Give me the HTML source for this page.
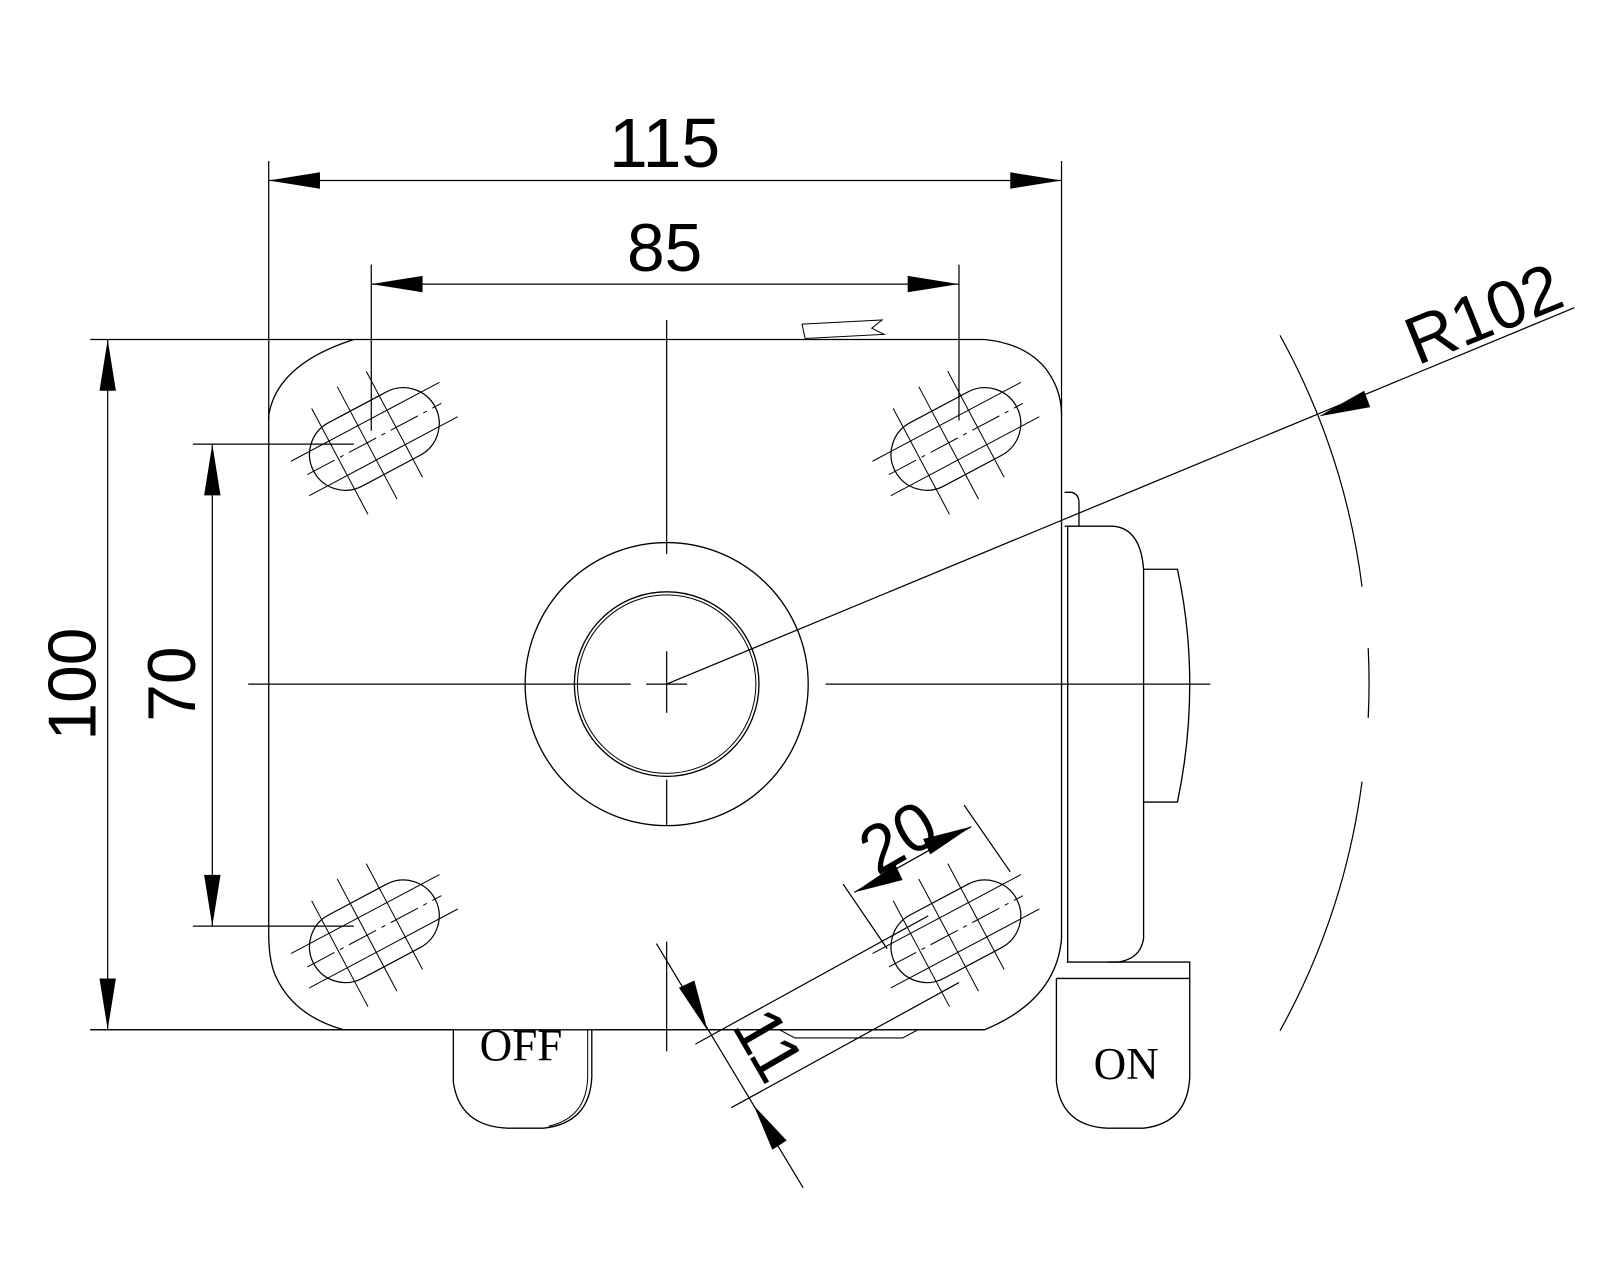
<!DOCTYPE html>
<html><head><meta charset="utf-8"><style>
html,body{margin:0;padding:0;background:#fff;width:1600px;height:1280px;overflow:hidden}
svg{display:block}
text{font-family:"Liberation Sans",sans-serif;fill:#000}
</style></head><body>
<svg width="1600" height="1280" viewBox="0 0 1560 1248" xmlns="http://www.w3.org/2000/svg">
<defs>
<g id="slot">
<path d="M-32,-35 L32,-35 A35,35 0 0 1 32,35 L-32,35 A35,35 0 0 1 -32,-35 Z" fill="none" stroke="#000" stroke-width="1.2"/>
<g stroke="#000" stroke-width="1">
<line x1="-40" y1="-55" x2="-40" y2="62"/>
<line x1="-8" y1="-62" x2="-8" y2="62"/>
<line x1="24" y1="-62" x2="24" y2="55"/>
<line x1="-82" y1="19" x2="82" y2="19"/>
<line x1="-82" y1="-19" x2="82" y2="-19"/>
<line x1="-74" y1="0" x2="74" y2="0" stroke-dasharray="30,6,4,6"/>
</g>
</g>
</defs>
<g fill="none" stroke="#000" stroke-width="1.3">
<path d="M345,331 L960,331 Q1000,335 1020,360 Q1035,380 1035,405 L1035,915 Q1030,975 960,1004 L335,1004 Q285,990 268,950 Q262,935 262,910 L262,405 Q270,355 345,331 Z"/>
<circle cx="650" cy="667" r="138"/>
<circle cx="650" cy="667" r="90"/>
<circle cx="650" cy="667" r="87" stroke-width="1"/>
<path d="M1038,480 L1045,480 Q1052,482 1052,490 L1052,513"/>
<path d="M1038,513 L1085,513 Q1112,515 1115,555 L1115,915 Q1112,935 1090,938 L1040,938"/>
<line x1="1041" y1="513" x2="1041" y2="938"/>
<path d="M1115,555 L1148,555 Q1160,610 1160,667 Q1160,725 1148,782 L1115,782"/>
<path d="M1030,954 L1030,1055 Q1035,1098 1080,1100 L1115,1100 Q1158,1095 1160,1050 L1160,938 L1080,938"/>
<line x1="1030" y1="954" x2="1160" y2="954"/>
<path d="M442,1004 L442,1055 Q448,1098 495,1100 L530,1100 Q575,1095 577,1050 L577,1004"/>
<path d="M573,1004 L573,1050 Q572,1090 535,1098" stroke-width="1"/>
<path d="M782,316 L860,312 L850,320 L862,326 L785,330 Z" stroke-width="1"/>
<path d="M760,1004 L775,1012 L880,1012 L895,1004" stroke-width="1"/>
</g>
<use href="#slot" transform="translate(365,428) rotate(-28)"/>
<use href="#slot" transform="translate(932,428) rotate(-28)"/>
<use href="#slot" transform="translate(365,908) rotate(-28)"/>
<use href="#slot" transform="translate(932,908) rotate(-28)"/>
<g stroke="#000" stroke-width="1.2" fill="none">
<line x1="242" y1="667" x2="615" y2="667"/>
<line x1="630" y1="667" x2="670" y2="667"/>
<line x1="805" y1="667" x2="1180" y2="667"/>
<line x1="650" y1="312" x2="650" y2="540"/>
<line x1="650" y1="635" x2="650" y2="695"/>
<line x1="650" y1="760" x2="650" y2="805"/>
<line x1="650" y1="918" x2="650" y2="1025"/>
<line x1="262" y1="157" x2="262" y2="410"/>
<line x1="1035" y1="157" x2="1035" y2="405"/>
<line x1="262" y1="176" x2="1035" y2="176"/>
<line x1="362" y1="258" x2="362" y2="420"/>
<line x1="935" y1="258" x2="935" y2="410"/>
<line x1="362" y1="277" x2="935" y2="277"/>
<line x1="88" y1="331" x2="345" y2="331"/>
<line x1="88" y1="1004" x2="440" y2="1004"/>
<line x1="105" y1="331" x2="105" y2="1004"/>
<line x1="188" y1="433" x2="345" y2="433"/>
<line x1="188" y1="903" x2="345" y2="903"/>
<line x1="207" y1="433" x2="207" y2="903"/>
<line x1="650" y1="667" x2="1535" y2="300"/>
<path d="M1248,327 A686,686 0 0 1 1328,572"/>
<path d="M1334,632 A686,686 0 0 1 1334,700"/>
<path d="M1328,762 A686,686 0 0 1 1248,1005"/>
<line x1="822" y1="862" x2="865" y2="925"/>
<line x1="940" y1="785" x2="985" y2="850"/>
<line x1="833" y1="870" x2="947" y2="806"/>
<line x1="640" y1="920" x2="783" y2="1158"/>
<line x1="678" y1="1018" x2="905" y2="893"/>
<line x1="713" y1="1080" x2="935" y2="958"/>
</g>
<g fill="#000" stroke="none">
<polygon points="262,176 312,168 312,184"/>
<polygon points="1035,176 985,168 985,184"/>
<polygon points="362,277 412,269 412,285"/>
<polygon points="935,277 885,269 885,285"/>
<polygon points="105,331 97,381 113,381"/>
<polygon points="105,1004 97,954 113,954"/>
<polygon points="207,433 199,483 215,483"/>
<polygon points="207,903 199,853 215,853"/>
<polygon points="1286,406 1330,381 1336,397"/>
<polygon points="833,870 873,843 880,858"/>
<polygon points="947,806 907,833 900,818"/>
<polygon points="690,1005 662,963 677,956"/>
<polygon points="735,1078 767,1112 753,1121"/>
</g>
<text x="648" y="163" font-size="68" text-anchor="middle">115</text>
<text x="648" y="264" font-size="66" text-anchor="middle">85</text>
<text font-size="66" text-anchor="middle" transform="translate(93,667) rotate(-90)">100</text>
<text font-size="66" text-anchor="middle" transform="translate(190,667) rotate(-90)">70</text>
<text font-size="66" text-anchor="middle" transform="translate(1455,327) rotate(-22)">R102</text>
<text font-size="66" text-anchor="middle" transform="translate(887,836) rotate(-30)">20</text>
<text font-size="66" text-anchor="middle" transform="translate(730,1030) rotate(60)">11</text>
<text x="1098" y="1052" font-size="44" text-anchor="middle" style="font-family:'Liberation Serif',serif">ON</text>
<text x="508" y="1034" font-size="44" text-anchor="middle" style="font-family:'Liberation Serif',serif">OFF</text>
<rect x="440" y="985" width="140" height="19" fill="#fff"/>
<line x1="88" y1="1004" x2="960" y2="1004" stroke="#000" stroke-width="1.3"/>
</svg>
</body></html>
